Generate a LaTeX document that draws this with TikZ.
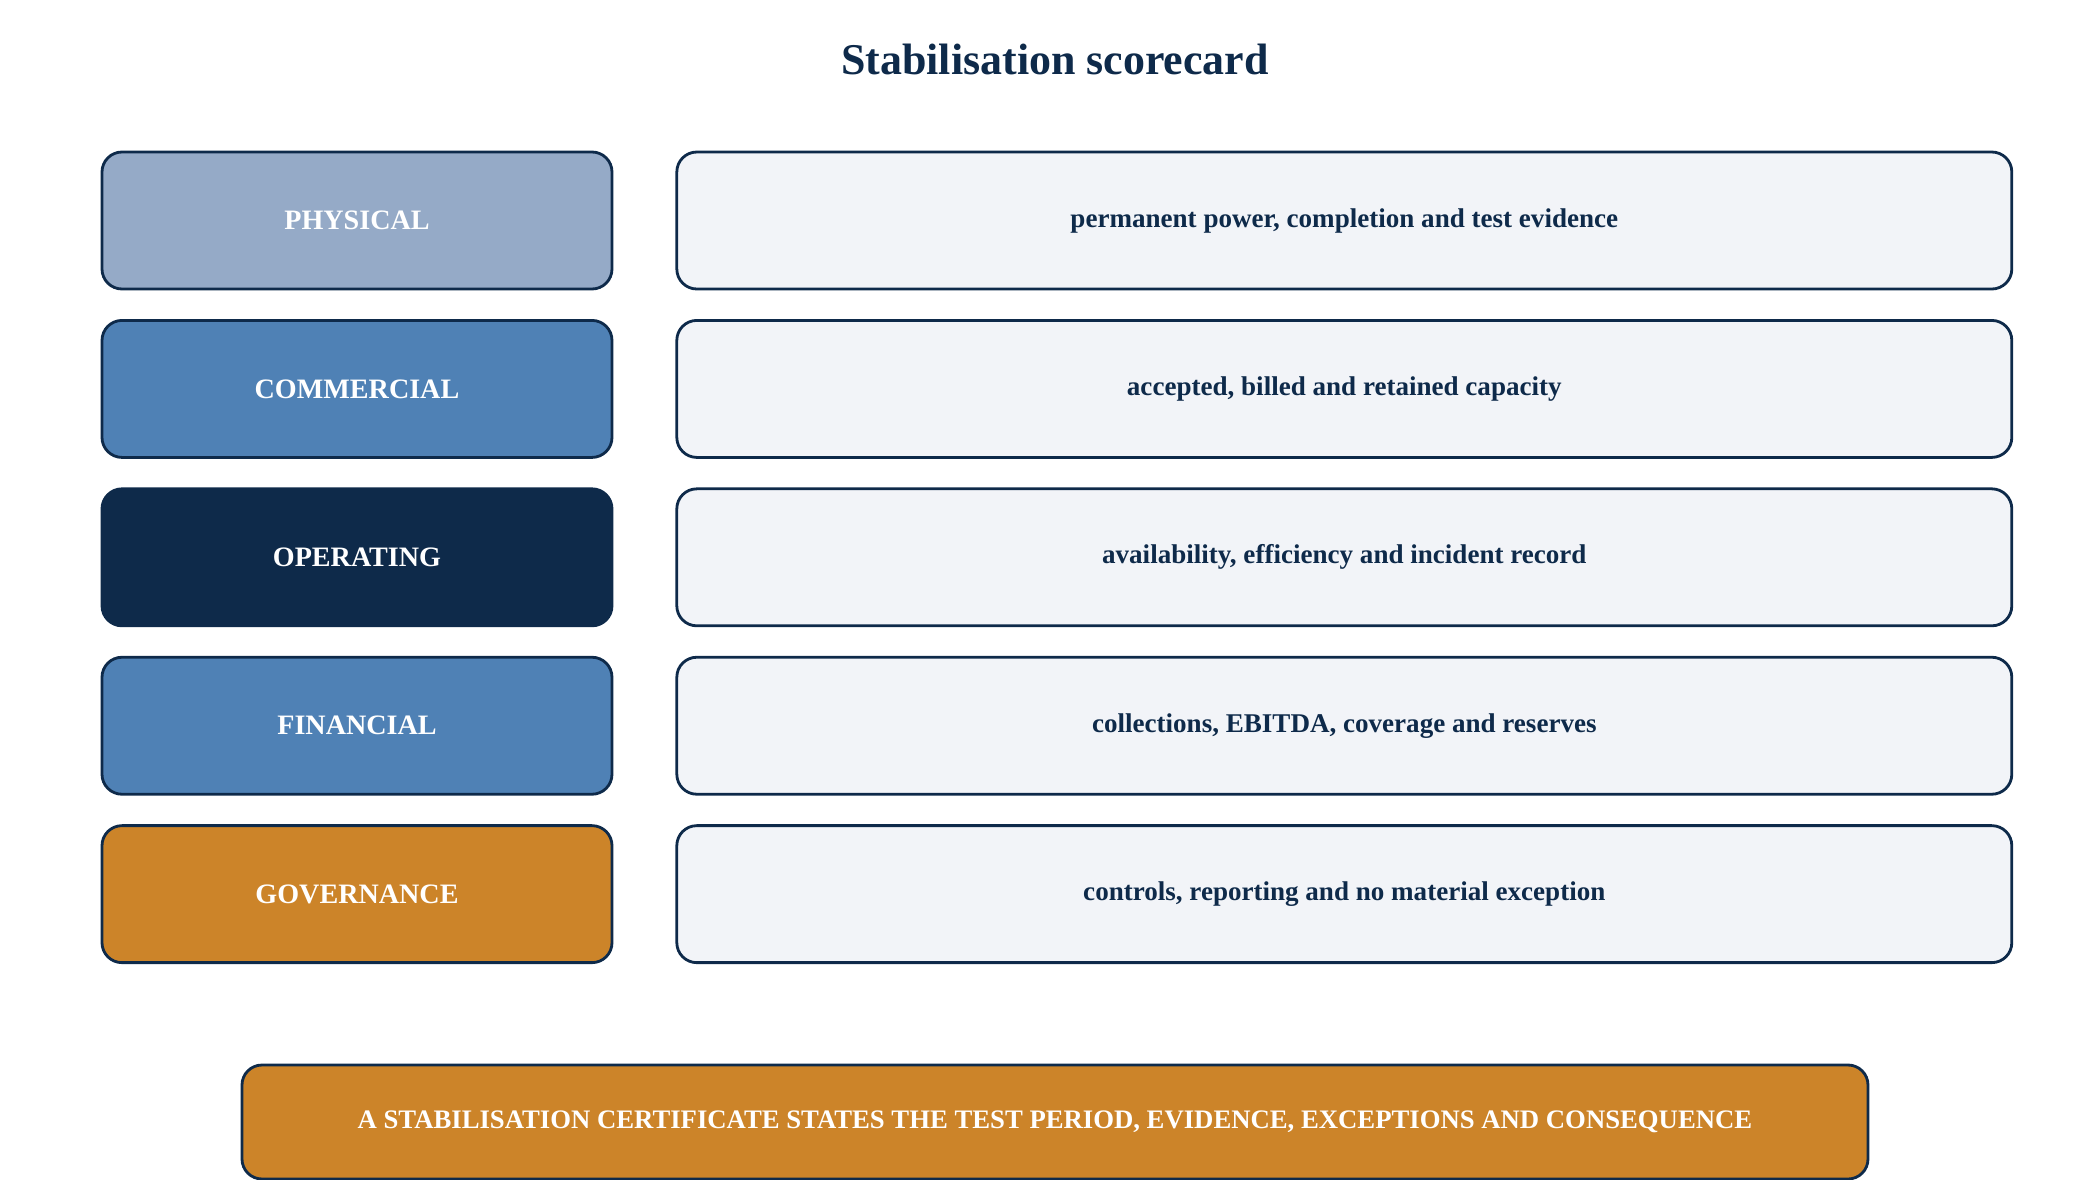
\documentclass[tikz,border=0pt]{standalone}
\usepackage{fontspec}
\setmainfont{Liberation Serif}
\usetikzlibrary{positioning}
\definecolor{navy}{HTML}{0E2A4A}
\definecolor{pale}{HTML}{95AAC7}
\definecolor{midblue}{HTML}{4F81B5}
\definecolor{amber}{HTML}{CC8429}
\definecolor{cardbg}{HTML}{F2F4F8}
\tikzset{
  tag/.style={draw=navy, line width=0.8pt, rounded corners=2mm, minimum width=5.1cm, minimum height=1.37cm, text=white, font=\fontsize{8}{9}\selectfont\bfseries},
  card/.style={draw=navy, line width=0.8pt, rounded corners=2mm, fill=cardbg, minimum width=13.35cm, minimum height=1.37cm, text=navy, font=\fontsize{7.7}{9}\selectfont\bfseries}
}
\begin{document}
\begin{tikzpicture}
        \useasboundingbox (0,0) rectangle (21,-11.8);

        % Title
        \node (title) at (10.55,-0.59) [text=navy, font=\fontsize{12.5}{14}\selectfont\bfseries] {Stabilisation scorecard};

        % Rows
        \node (phys) at (3.57,-2.205) [tag, fill=pale] {PHYSICAL};
        \node (physTxt) [card, right=0.62cm of phys] {permanent power, completion and test evidence};

        \node (comm) [tag, fill=midblue, below=0.286cm of phys] {COMMERCIAL};
        \node (commTxt) [card, right=0.62cm of comm] {accepted, billed and retained capacity};

        \node (oper) [tag, fill=navy, below=0.286cm of comm] {OPERATING};
        \node (operTxt) [card, right=0.62cm of oper] {availability, efficiency and incident record};

        \node (fin) [tag, fill=midblue, below=0.286cm of oper] {FINANCIAL};
        \node (finTxt) [card, right=0.62cm of fin] {collections, EBITDA, coverage and reserves};

        \node (gov) [tag, fill=amber, below=0.286cm of fin] {GOVERNANCE};
        \node (govTxt) [card, right=0.62cm of gov] {controls, reporting and no material exception};

        % Certificate
        \node (cert) at (10.55,-11.22) [tag, fill=amber, minimum width=16.26cm, minimum height=1.14cm, font=\fontsize{7.6}{9}\selectfont\bfseries] {A STABILISATION CERTIFICATE STATES THE TEST PERIOD, EVIDENCE, EXCEPTIONS AND CONSEQUENCE};
\end{tikzpicture}
\end{document}
